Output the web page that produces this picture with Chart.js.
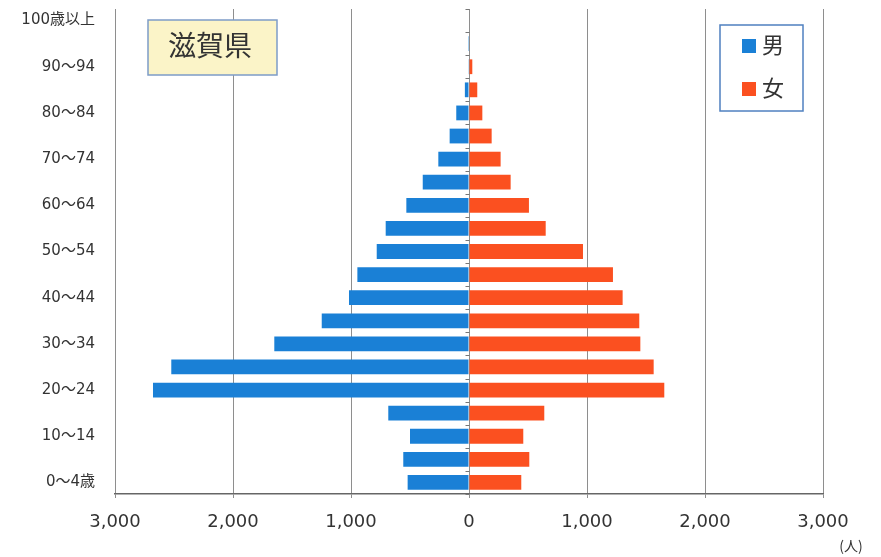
<!DOCTYPE html>
<html lang="ja">
<head>
<meta charset="utf-8">
<title>滋賀県 人口ピラミッド</title>
<script src="https://cdn.jsdelivr.net/npm/chart.js@4/dist/chart.umd.min.js"></script>
<style>
  html, body { margin: 0; padding: 0; background: #fff; }
  #wrap { position: relative; width: 881px; height: 557px; }
</style>
</head>
<body>
<div id="wrap"><canvas id="pyramid" width="881" height="557"></canvas></div>
<script>
// age groups, bottom to top
const ageGroups = ["0～4歳", "5～9", "10～14", "15～19", "20～24", "25～29", "30～34", "35～39",
  "40～44", "45～49", "50～54", "55～59", "60～64", "65～69", "70～74", "75～79",
  "80～84", "85～89", "90～94", "95～99", "100歳以上"];

// people, same order as ageGroups
const male = [520, 557, 500, 684, 2678, 2523, 1650, 1248, 1017, 946, 782, 706, 531, 392, 260, 164, 108, 35, 6, 1, 0];
const female = [443, 511, 460, 638, 1655, 1565, 1452, 1443, 1302, 1220, 966, 650, 508, 353, 268, 192, 113, 70, 28, 4, 0];

const seriesNames = ["男", "女"];
const seriesColors = ["#1a80d6", "#fb5020"];
const xTicks = [-3000, -2000, -1000, 0, 1000, 2000, 3000];
const title = "滋賀県";
const unitLabel = "(人)";

const FONT = '"DejaVu Sans", "Noto Sans CJK JP", sans-serif';
const JP_FONT = '"Noto Sans CJK JP", sans-serif';

// title box, legend box, unit label and small ticks on the zero line
const decorations = {
  id: "decorations",
  afterDatasetsDraw(chart) {
    const ctx = chart.ctx;
    const x = chart.scales.x, y = chart.scales.y;
    ctx.save();

    // little ticks on the zero line between categories
    const zx = Math.round(x.getPixelForValue(0)) + 0.5;
    ctx.strokeStyle = "#777";
    ctx.lineWidth = 1;
    for (let i = 0; i <= ageGroups.length; i++) {
      const py = Math.round((y.getPixelForValue(i) + y.getPixelForValue(i - 1)) / 2) + 0.5;
      ctx.beginPath();
      ctx.moveTo(zx - 4, py);
      ctx.lineTo(zx, py);
      ctx.stroke();
    }

    // title box
    ctx.fillStyle = "#fbf4c8";
    ctx.fillRect(148, 20, 129, 55);
    ctx.strokeStyle = "#7d9cc8";
    ctx.lineWidth = 1.5;
    ctx.strokeRect(148, 20, 129, 55);
    ctx.fillStyle = "#333";
    ctx.font = "28px " + JP_FONT;
    ctx.textAlign = "center";
    ctx.textBaseline = "middle";
    ctx.fillText(title, 210, 45);

    // legend box
    ctx.fillStyle = "#fff";
    ctx.fillRect(720, 25, 83, 86);
    ctx.strokeStyle = "#4f80c0";
    ctx.lineWidth = 1.5;
    ctx.strokeRect(720, 25, 83, 86);
    ctx.font = "22px " + JP_FONT;
    ctx.textAlign = "left";
    seriesNames.forEach((name, i) => {
      const cy = 46 + i * 43;
      ctx.fillStyle = seriesColors[i];
      ctx.fillRect(742, cy - 7, 14, 14);
      ctx.fillStyle = "#333";
      ctx.fillText(name, 762, cy - 1);
    });

    // unit
    ctx.font = "14px " + JP_FONT;
    ctx.textAlign = "center";
    ctx.fillStyle = "#333";
    ctx.fillText(unitLabel, 851, 546);
    ctx.restore();
  }
};

new Chart(document.getElementById("pyramid").getContext("2d"), {
  type: "bar",
  data: {
    labels: ageGroups,
    datasets: [
      {
        label: seriesNames[0],
        data: male.map(v => -v),
        backgroundColor: seriesColors[0],
        barPercentage: 0.64,
        categoryPercentage: 1,
        stack: "p"
      },
      {
        label: seriesNames[1],
        data: female,
        backgroundColor: seriesColors[1],
        barPercentage: 0.64,
        categoryPercentage: 1,
        stack: "p"
      }
    ]
  },
  options: {
    indexAxis: "y",
    responsive: false,
    animation: false,
    layout: { padding: { top: 4, right: 58, left: 0, bottom: 0 } },
    plugins: {
      legend: { display: false },
      tooltip: { enabled: false }
    },
    scales: {
      x: {
        stacked: true,
        min: xTicks[0],
        max: xTicks[xTicks.length - 1],
        afterBuildTicks: s => { s.ticks = xTicks.map(v => ({ value: v })); },
        afterFit: s => { s.height = 63; },
        border: { display: true, color: "#666", width: 1.5 },
        grid: { color: "#8e8e8e", lineWidth: 1, tickLength: 4 },
        ticks: {
          padding: 14,
          color: "#333",
          font: { family: FONT, size: 18 },
          callback: v => Math.abs(v).toLocaleString("en-US")
        }
      },
      y: {
        stacked: true,
        reverse: true,
        afterFit: s => { s.width = 115; },
        border: { display: false },
        // tickLength only moves the labels away from the plot, nothing is drawn
        grid: { display: false, drawTicks: true, tickLength: 20 },
        ticks: {
          autoSkip: false,
          padding: 0,
          color: "#333",
          font: { family: FONT, size: 15 },
          callback: function (v, i) { return i % 2 === 0 ? this.getLabelForValue(v) : ""; }
        }
      }
    }
  },
  plugins: [decorations]
});
</script>
</body>
</html>
